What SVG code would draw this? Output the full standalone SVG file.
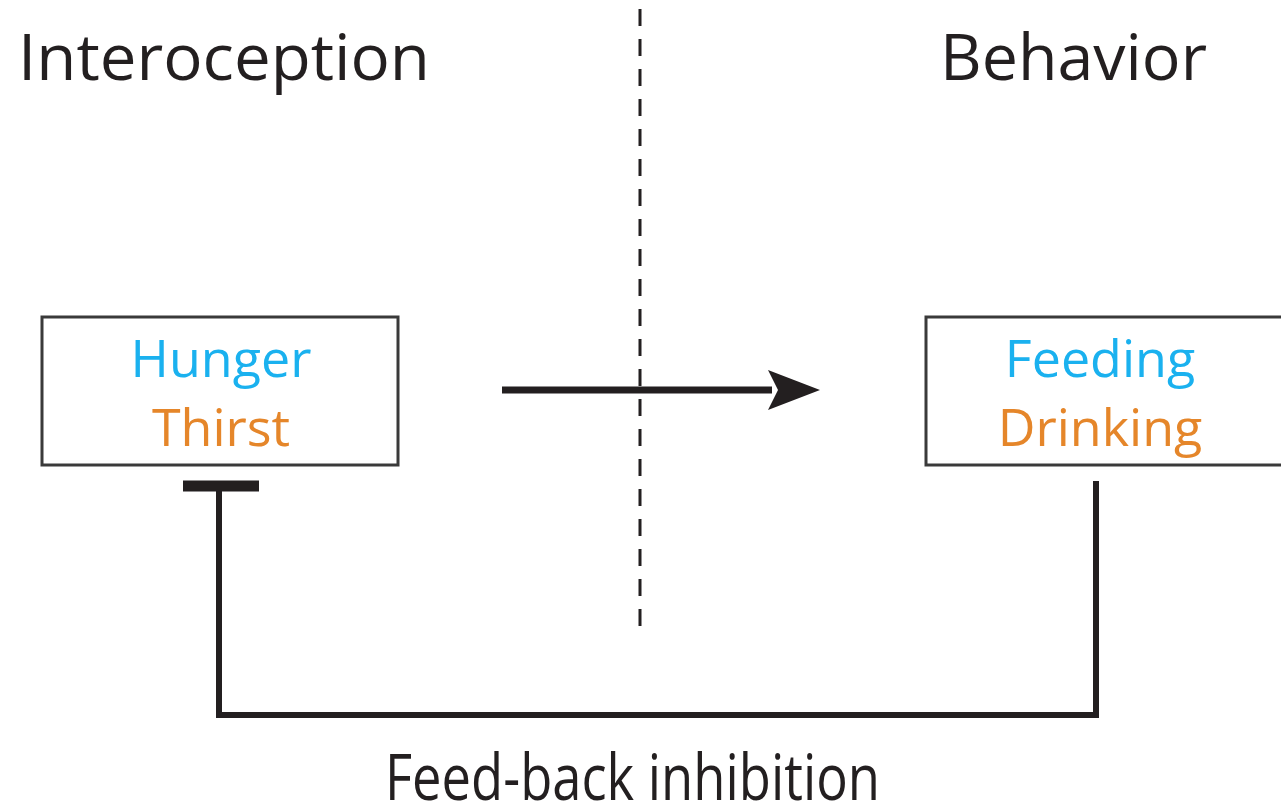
<svg xmlns="http://www.w3.org/2000/svg" width="1281" height="809" viewBox="0 0 1281 809">
  <style>
    text { font-family: "Open Sans", "Noto Sans", "Liberation Sans", sans-serif; }
    .head { font-size: 64px; fill: #231f20; }
    .lbl { font-size: 52px; text-anchor: middle; }
    .hunger { fill: #1ab1ef; }
    .thirst { fill: #e5862a; }
    .box { fill: #ffffff; stroke: #3a3a3a; stroke-width: 3; }
    .wire { fill: none; stroke: #231f20; }
  </style>
  <defs>
    <marker id="arrowhead" markerUnits="userSpaceOnUse" markerWidth="52" markerHeight="40" refX="4" refY="20" orient="auto">
      <path d="M0,0 L52,20 L0,40 L10,20 Z" fill="#231f20"/>
    </marker>
  </defs>

  <rect width="1281" height="809" fill="#ffffff"/>

  <!-- section headings -->
  <text class="head" x="18" y="80" textLength="412" lengthAdjust="spacingAndGlyphs">Interoception</text>
  <text class="head" x="940" y="80" textLength="267" lengthAdjust="spacingAndGlyphs">Behavior</text>

  <!-- divider -->
  <line x1="640" y1="9" x2="640" y2="632" stroke="#231f20" stroke-width="3" stroke-dasharray="17 13"/>

  <g id="connectors">
    <line class="wire" x1="502" y1="390" x2="772" y2="390" stroke-width="7" marker-end="url(#arrowhead)"/>
    <polyline class="wire" points="1096,481 1096,715 219,715 219,488" stroke-width="6"/>
    <line class="wire" x1="183" y1="486" x2="259" y2="486" stroke-width="11"/>
  </g>

  <g id="interoception">
    <rect class="box" x="42" y="317" width="356" height="148"/>
    <text class="lbl hunger" x="221" y="377">Hunger</text>
    <text class="lbl thirst" x="221" y="446">Thirst</text>
  </g>

  <g id="behavior">
    <rect class="box" x="926" y="317" width="360" height="148"/>
    <text class="lbl hunger" x="1100" y="377">Feeding</text>
    <text class="lbl thirst" x="1100" y="446">Drinking</text>
  </g>

  <text class="head" x="385" y="800" font-size="50" textLength="495" lengthAdjust="spacingAndGlyphs">Feed-back inhibition</text>
</svg>
